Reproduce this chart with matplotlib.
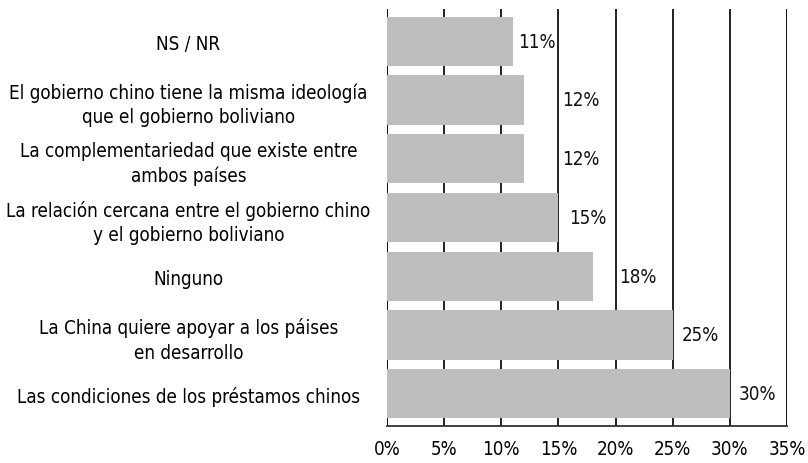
import matplotlib
matplotlib.use('Agg')
import matplotlib.pyplot as plt
from matplotlib import font_manager

categories = [
    'Las condiciones de los préstamos chinos',
    'La China quiere apoyar a los páises\nen desarrollo',
    'Ninguno',
    'La relación cercana entre el gobierno chino\ny el gobierno boliviano',
    'La complementariedad que existe entre\nambos países',
    'El gobierno chino tiene la misma ideología\nque el gobierno boliviano',
    'NS / NR',
]
values = [30, 25, 18, 15, 12, 12, 11]
value_labels = ['30%', '25%', '18%', '15%', '12%', '12%', '11%']
# where each label sits, in data units
label_x = [30.8, 25.8, 20.3, 15.9, 15.3, 15.3, 11.5]
xticks = [0, 5, 10, 15, 20, 25, 30, 35]
xtick_labels = ['0%', '5%', '10%', '15%', '20%', '25%', '30%', '35%']

condensed = [f.fname for f in font_manager.fontManager.ttflist
             if f.name == 'DejaVu Sans' and f.stretch == 'condensed' and f.weight == 400 and f.style == 'normal']
if condensed:
    fp = font_manager.FontProperties(fname=condensed[0], size=13.5)
else:
    fp = font_manager.FontProperties(family='DejaVu Sans', size=12)

fig = plt.figure(figsize=(8.08, 4.64), dpi=100)
ax = fig.add_axes([0.479, 0.0797, 0.495, 0.899])

ypos = list(range(len(categories)))
ax.barh(ypos, values, height=0.84, color='#bdbec0', zorder=2)
for y, x, t in zip(ypos, label_x, value_labels):
    ax.text(x, y, t, va='center', ha='left', fontproperties=fp, color='#111111', zorder=3)

ax.set_xlim(0, 35)
ax.set_ylim(-0.55, len(categories) - 0.45)
ax.set_xticks(xticks)
ax.set_xticklabels(xtick_labels, fontproperties=fp)
ax.set_yticks(ypos)
ax.set_yticklabels(categories, fontproperties=fp, ha='center', multialignment='center',
                   linespacing=1.35)
ax.tick_params(axis='y', length=0, pad=143)
ax.tick_params(axis='x', length=0, pad=9)

ax.grid(axis='x', color='#111111', linewidth=1.3, zorder=1)
ax.set_axisbelow(True)
for side in ['top', 'right', 'left']:
    ax.spines[side].set_visible(False)
ax.spines['bottom'].set_linewidth(1.3)
ax.spines['bottom'].set_color('#333333')
ax.axvline(0, color='#111111', linewidth=1.3, zorder=1)
ax.axvline(35, color='#111111', linewidth=1.3, zorder=1)

fig.savefig('out.png', dpi=100)
